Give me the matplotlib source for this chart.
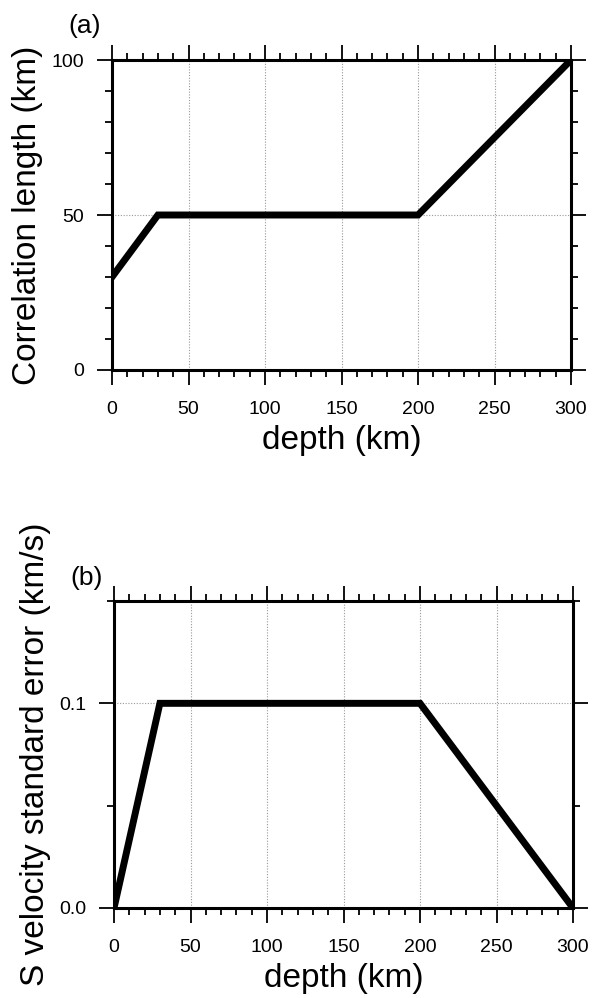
import matplotlib
matplotlib.use("Agg")
import matplotlib.pyplot as plt
from matplotlib.ticker import MultipleLocator, FormatStrFormatter

plt.rcParams['font.family'] = ['Liberation Sans', 'DejaVu Sans']

# Panel (a): correlation length vs depth
depth_a = [0, 30, 200, 300]
corr_len = [30, 50, 50, 100]
# Panel (b): S velocity standard error vs depth
depth_b = [0, 30, 200, 300]
vs_err = [0.0, 0.1, 0.1, 0.0]

fig = plt.figure(figsize=(5.93, 9.98), dpi=100)

axa = fig.add_axes([112/593, 1-370/998, (571-112)/593, (370-60)/998])
axb = fig.add_axes([114/593, 1-908/998, (573-114)/593, (908-601)/998])


def style(ax, ymaj, ymin, fmt):
    ax.set_xlim(0, 300)
    ax.xaxis.set_major_locator(MultipleLocator(50))
    ax.xaxis.set_minor_locator(MultipleLocator(10))
    ax.yaxis.set_major_locator(MultipleLocator(ymaj))
    ax.yaxis.set_minor_locator(MultipleLocator(ymin))
    ax.yaxis.set_major_formatter(FormatStrFormatter(fmt))
    ax.tick_params(which='both', direction='out', top=True, right=True,
                   labeltop=False, labelright=False, width=1.3, color='black')
    ax.tick_params(which='major', length=11)
    ax.tick_params(which='minor', length=5)
    ax.tick_params(axis='x', which='major', labelsize=14, pad=11)
    ax.tick_params(axis='y', which='major', labelsize=14, pad=9)
    for s in ax.spines.values():
        s.set_linewidth(2.2)
    ax.grid(True, which='major', linestyle=(0, (1, 1.5)), color='#999999', linewidth=0.8)
    ax.set_axisbelow(True)
    ax.set_xlabel('depth (km)', fontsize=24, labelpad=5)


axa.plot(depth_a, corr_len, color='black', linewidth=5, solid_joinstyle='miter', zorder=3)
axa.set_ylim(0, 100)
style(axa, 50, 10, '%d')
axa.set_ylabel('Correlation length (km)', fontsize=24, labelpad=6)

axb.plot(depth_b, vs_err, color='black', linewidth=5, solid_joinstyle='miter', zorder=3)
axb.set_ylim(0, 0.15)
style(axb, 0.1, 0.05, '%.1f')
axb.set_ylabel('S velocity standard error (km/s)', fontsize=24, labelpad=6)

fig.text(68/593, 1-33/998, '(a)', fontsize=19, ha='left', va='baseline')
fig.text(70/593, 1-585/998, '(b)', fontsize=19, ha='left', va='baseline')

fig.savefig('out.png', dpi=100)
